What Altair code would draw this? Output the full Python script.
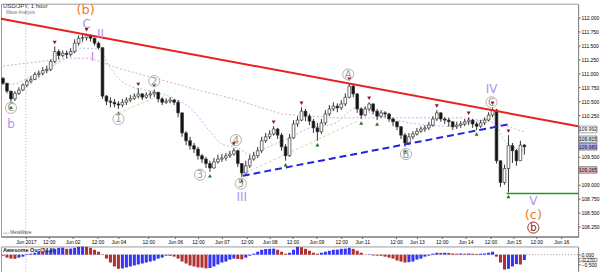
import altair as alt
import pandas as pd

# ---------------- price data (one bar = ~2 hours) ----------------
first_open = 110.91
close_px = [110.82, 110.68, 110.54, 110.64, 110.70, 110.79, 110.86, 110.89, 110.98, 111.00,
            111.05, 111.07, 111.21, 111.39, 111.32, 111.36, 111.34, 111.39, 111.54, 111.63,
            111.64, 111.68, 111.63, 111.54, 111.46, 110.59, 110.50, 110.48, 110.45, 110.43,
            110.48, 110.52, 110.55, 110.59, 110.63, 110.57, 110.61, 110.63, 110.66, 110.54,
            110.48, 110.50, 110.52, 110.48, 110.29, 109.93, 109.79, 109.70, 109.64, 109.52,
            109.46, 109.38, 109.30, 109.41, 109.46, 109.48, 109.52, 109.55, 109.61, 109.38,
            109.21, 109.34, 109.46, 109.52, 109.61, 109.79, 109.86, 109.91, 110.00, 109.89,
            109.68, 109.52, 109.84, 110.09, 110.16, 110.32, 110.23, 110.14, 110.02, 109.95,
            110.11, 110.27, 110.36, 110.41, 110.38, 110.45, 110.57, 110.77, 110.63, 110.36,
            110.25, 110.36, 110.45, 110.32, 110.23, 110.29, 110.27, 110.18, 110.13, 110.04,
            109.89, 109.75, 109.86, 109.91, 109.96, 110.00, 110.02, 110.07, 110.18, 110.29,
            110.18, 110.16, 110.13, 110.04, 110.07, 110.09, 110.13, 110.16, 110.09, 110.05,
            110.11, 110.16, 110.25, 110.34, 109.43, 109.04, 109.29, 109.70, 109.61, 109.43,
            109.71, 109.68]
high_px = [110.93, 110.82, 110.68, 110.68, 110.75, 110.82, 110.89, 110.95, 111.02, 111.05,
           111.11, 111.14, 111.25, 111.48, 111.43, 111.41, 111.41, 111.45, 111.61, 111.68,
           111.70, 111.71, 111.70, 111.64, 111.57, 111.46, 110.61, 110.57, 110.54, 110.50,
           110.54, 110.57, 110.61, 110.64, 110.73, 110.64, 110.66, 110.68, 110.71, 110.64,
           110.57, 110.55, 110.57, 110.54, 110.52, 110.29, 109.96, 109.86, 109.75, 109.68,
           109.55, 109.50, 109.43, 109.48, 109.54, 109.55, 109.57, 109.61, 109.66, 109.63,
           109.39, 109.43, 109.54, 109.59, 109.68, 109.86, 109.93, 109.98, 110.05, 110.02,
           109.93, 109.73, 109.91, 110.16, 110.23, 110.39, 110.36, 110.27, 110.18, 110.11,
           110.18, 110.34, 110.43, 110.48, 110.46, 110.52, 110.64, 110.82, 110.79, 110.64,
           110.39, 110.41, 110.48, 110.46, 110.36, 110.34, 110.32, 110.29, 110.21, 110.14,
           110.05, 109.93, 109.93, 109.96, 110.02, 110.05, 110.07, 110.13, 110.23, 110.34,
           110.30, 110.21, 110.20, 110.14, 110.13, 110.14, 110.18, 110.21, 110.18, 110.13,
           110.16, 110.21, 110.30, 110.39, 110.36, 109.43, 109.36, 109.89, 109.75, 109.64,
           109.79, 109.73]
low_px = [110.79, 110.64, 110.46, 110.50, 110.61, 110.68, 110.75, 110.82, 110.88, 110.93,
          110.96, 111.00, 111.04, 111.18, 111.25, 111.29, 111.27, 111.30, 111.36, 111.50,
          111.57, 111.59, 111.57, 111.50, 111.43, 110.54, 110.43, 110.39, 110.39, 110.36,
          110.39, 110.43, 110.48, 110.52, 110.55, 110.52, 110.54, 110.55, 110.57, 110.48,
          110.43, 110.45, 110.46, 110.43, 110.21, 109.86, 109.71, 109.63, 109.57, 109.45,
          109.39, 109.30, 109.23, 109.29, 109.38, 109.41, 109.43, 109.48, 109.52, 109.32,
          109.14, 109.20, 109.30, 109.43, 109.48, 109.57, 109.75, 109.82, 109.88, 109.82,
          109.61, 109.43, 109.50, 109.82, 110.04, 110.14, 110.14, 110.07, 109.93, 109.79,
          109.91, 110.07, 110.23, 110.32, 110.30, 110.34, 110.41, 110.55, 110.57, 110.29,
          110.18, 110.23, 110.32, 110.27, 110.16, 110.20, 110.21, 110.13, 110.05, 109.98,
          109.82, 109.68, 109.71, 109.82, 109.88, 109.93, 109.95, 109.98, 110.04, 110.14,
          110.13, 110.09, 110.04, 109.98, 110.00, 110.02, 110.05, 110.07, 110.02, 109.98,
          110.02, 110.07, 110.14, 110.21, 109.38, 108.96, 109.00, 108.86, 109.39, 109.34,
          109.43, 109.54]

# Awesome Oscillator (34,5)
ao_vals = [-0.05, -0.15, -0.20, -0.21, -0.15, -0.10, 0.03, 0.05, 0.10, 0.15,
           0.14, 0.20, 0.25, 0.30, 0.35, 0.36, 0.30, 0.31, 0.35, 0.40,
           0.41, 0.40, 0.35, 0.25, 0.15, 0.02, -0.20, -0.40, -0.60, -0.72,
           -0.70, -0.65, -0.60, -0.55, -0.50, -0.45, -0.40, -0.35, -0.30, -0.20,
           -0.15, -0.05, -0.06, -0.10, -0.20, -0.35, -0.45, -0.55, -0.60, -0.65,
           -0.66, -0.70, -0.68, -0.60, -0.50, -0.40, -0.35, -0.25, -0.20, -0.22,
           -0.24, -0.15, -0.05, 0.05, 0.15, 0.25, 0.29, 0.30, 0.31, 0.25,
           0.15, 0.05, 0.10, 0.25, 0.40, 0.38, 0.30, 0.20, 0.10, 0.05,
           0.10, 0.15, 0.20, 0.25, 0.26, 0.30, 0.31, 0.35, 0.30, 0.20,
           0.10, 0.01, 0.02, -0.04, -0.05, -0.06, -0.10, -0.15, -0.20, -0.30,
           -0.35, -0.40, -0.38, -0.35, -0.25, -0.20, -0.10, -0.05, 0.05, 0.10,
           0.09, 0.10, 0.09, 0.06, 0.05, 0.06, 0.05, 0.06, 0.05, 0.04,
           0.05, 0.06, 0.10, 0.15, -0.10, -0.40, -0.76, -0.72, -0.60, -0.48,
           -0.50, -0.27]

# moving averages (sparse readings: bar index, price)
pink_ma_i = [0, 16, 22, 29, 50, 58, 70, 83, 100, 116, 124, 131]
pink_ma_p = [111.13, 111.27, 111.27, 111.09, 110.68, 110.54, 110.27, 110.20, 110.20, 110.20, 110.11, 109.95]
blue_ma_i = [0, 2, 8, 16, 20, 24, 27, 31, 37, 43, 47, 52, 55, 59, 62, 66, 72, 77, 83, 89, 93, 100, 112, 123, 126, 131]
blue_ma_p = [110.91, 110.80, 110.98, 111.27, 111.45, 111.43, 111.09, 110.80, 110.68, 110.55, 110.38, 109.96,
             109.73, 109.66, 109.55, 109.66, 109.84, 110.02, 110.09, 110.38, 110.27, 110.14, 110.05, 110.18,
             109.79, 109.61]

# wave connector segments (faint yellow)
conn_seg = [1, 1, 2, 2, 3, 3]
conn_i = [3, 21, 29, 37.75, 60, 89]
conn_p = [110.59, 111.61, 110.29, 110.55, 109.18, 110.14]

# trend lines
red_i, red_p = [-0.5, 144.5], [111.98, 110.05]
blue_i, blue_p = [60.25, 127.5], [109.16, 110.09]
green_i, green_p = [126.5, 144.5], [108.84, 108.84]

# fractal markers (bar indices)
peak_bars = [13, 21, 34, 38, 58, 68, 75, 87, 92, 109, 117, 123, 127]
trough_bars = [2, 29, 52, 60, 71, 79, 90, 94, 101, 119, 127]

# wave labels
circ_text = ["C", "1", "2", "3", "4", "5", "A", "B", "C"]
circ_i = [2, 29, 38, 49.5, 58.5, 59.75, 86.75, 101.25, 122.75]
circ_p = [110.38, 110.18, 110.86, 109.18, 109.80, 109.02, 110.98, 109.55, 110.48]
purple_text = ["b", "C", "II", "I", "III", "IV", "V"]
purple_i = [2, 21, 24.5, 22.5, 60, 122.75, 133.25]
purple_p = [110.09, 111.89, 111.71, 111.29, 108.77, 110.71, 108.71]
orange_text = ["(b)", "(c)"]
orange_i = [20.75, 133.25]
orange_p = [112.14, 108.46]
dark_text, dark_i, dark_p = ["b"], [133.25], [108.23]

# header / footer texts
title_text = "USD/JPY, 1 hour"
subtitle_text = "Wave Analysis"
footer_text = "\u25c7\u25c7 MetaWave"
ao_title_text = "Awesome Osc(34,5)"

# axes
tick_i = [5.75, 11.5, 17.5, 23.75, 29, 36.5, 43.25, 49, 55, 61.25, 67, 72.75, 78.75, 85, 90.25,
          98.75, 104, 110.25, 116.25, 122.5, 128.25, 134, 140.25]
tick_text = ["Jun 2017", "12:00", "Jun 02", "12:00", "Jun 04", "12:00", "Jun 06", "12:00", "Jun 07",
             "12:00", "Jun 08", "12:00", "Jun 09", "12:00", "Jun 11", "12:00", "Jun 13", "12:00",
             "Jun 14", "12:00", "Jun 15", "12:00", "Jun 16"]
price_ticks = [108.25, 108.5, 108.75, 109.0, 109.5, 110.25, 110.5, 110.75, 111.0, 111.25, 111.5, 111.75, 112.0]
box_p = [109.992, 109.815, 109.680, 109.265]
box_fill = ["#ffffff", "#cfe2f3", "#aeb0f2", "#e6b4b4"]
separator_i = [5.75]

# ---------------- build ----------------
FONT = "Liberation Sans"
xs = alt.Scale(domain=[-0.5, 144.5], nice=False, zero=False)
ys = alt.Scale(domain=[108.07, 112.25], nice=False, zero=False)
label_expr = "[" + ",".join("'%s'" % t for t in tick_text) + "][indexof([" + ",".join(str(v) for v in tick_i) + "], datum.value)]"
xaxis = alt.Axis(values=tick_i, labelExpr=label_expr, labelFontSize=5, labelFont=FONT, tickSize=2,
                 labelPadding=1, labelOverlap=False, labelFlush=False, grid=False, title=None,
                 domainColor="#666", tickColor="#666", labelColor="#000")
yaxis = alt.Axis(values=price_ticks, format=".3f", orient="right", labelFontSize=5, labelFont=FONT,
                 tickSize=2, labelPadding=1, grid=False, title=None, domainColor="#666",
                 tickColor="#666", labelColor="#000", domainDash=[1, 1])


def X(f):
    return alt.X(f, type="quantitative", scale=xs, axis=xaxis)


def Y(f):
    return alt.Y(f, type="quantitative", scale=ys, axis=yaxis)


def label(text, x, y, size, color, weight="normal"):
    return alt.Chart(pd.DataFrame({"t": [text]})).mark_text(
        font=FONT, fontSize=size, fontWeight=weight, align="left", baseline="middle", color=color
    ).encode(x=alt.value(x), y=alt.value(y), text="t:N")


n = len(close_px)
opens = [first_open] + close_px[:-1]
cd = pd.DataFrame({"i": list(range(n)), "o": opens, "c": close_px, "h": high_px, "l": low_px})
cd["hi"] = cd[["h", "o", "c"]].max(axis=1)
cd["lo"] = cd[["l", "o", "c"]].min(axis=1)
cd["bt"] = cd[["o", "c"]].max(axis=1)
cd["bb"] = cd[["o", "c"]].min(axis=1)
cd["up"] = cd["c"] >= cd["o"]

pink = alt.Chart(pd.DataFrame({"i": pink_ma_i, "p": pink_ma_p})).mark_line(
    color="#dca6d6", strokeWidth=1, strokeDash=[2, 2]).encode(x=X("i"), y=Y("p"))
bluema = alt.Chart(pd.DataFrame({"i": blue_ma_i, "p": blue_ma_p})).mark_line(
    color="#a9bff2", strokeWidth=1, strokeDash=[2, 2], interpolate="monotone").encode(x=X("i"), y=Y("p"))
conn = alt.Chart(pd.DataFrame({"s": conn_seg, "i": conn_i, "p": conn_p})).mark_line(
    color="#d6d6a0", strokeWidth=1, strokeDash=[3, 2]).encode(x=X("i"), y=Y("p"), detail="s:N")
sep = alt.Chart(pd.DataFrame({"i": separator_i})).mark_rule(
    color="#aaaaaa", strokeDash=[1, 2], strokeWidth=1).encode(x=X("i"))

wick = alt.Chart(cd).mark_rule(color="#333333", strokeWidth=1).encode(x=X("i"), y=Y("lo"), y2="hi")
body = alt.Chart(cd).transform_calculate(x1="datum.i - 0.34", x2="datum.i + 0.34").mark_rect(
    strokeWidth=0.7).encode(
    x=X("x1"), x2="x2:Q", y=Y("bb"), y2="bt:Q",
    fill=alt.condition("datum.up", alt.value("#ffffff"), alt.value("#111111")),
    stroke=alt.value("#333333"))

redline = alt.Chart(pd.DataFrame({"i": red_i, "p": red_p})).mark_line(
    color="#e8211f", strokeWidth=2, clip=True).encode(x=X("i"), y=Y("p"))
blueline = alt.Chart(pd.DataFrame({"i": blue_i, "p": blue_p})).mark_line(
    color="#2424e0", strokeWidth=2, strokeDash=[7, 4]).encode(x=X("i"), y=Y("p"))
greenline = alt.Chart(pd.DataFrame({"i": green_i, "p": green_p})).mark_line(
    color="#1f9a1f", strokeWidth=1.5, clip=True).encode(x=X("i"), y=Y("p"))

peaks = alt.Chart(cd.loc[peak_bars, ["i", "hi"]]).mark_point(
    shape="triangle-down", filled=True, size=16, color="#8e1c1c", opacity=1, yOffset=-4).encode(
    x=X("i"), y=Y("hi"))
troughs = alt.Chart(cd.loc[trough_bars, ["i", "lo"]]).mark_point(
    shape="triangle-up", filled=True, size=16, color="#1c7a1c", opacity=1, yOffset=4).encode(
    x=X("i"), y=Y("lo"))

cdf = pd.DataFrame({"t": circ_text, "i": circ_i, "p": circ_p})
circles = alt.Chart(cdf).mark_point(shape="circle", size=125, filled=False, color="#b0b0b0",
                                    strokeWidth=1, opacity=1).encode(x=X("i"), y=Y("p"))
circ_txt = alt.Chart(cdf).mark_text(fontSize=10, font="DejaVu Sans", color="#9a9a9a",
                                    baseline="middle", dy=0.5).encode(x=X("i"), y=Y("p"), text="t:N")
purple = alt.Chart(pd.DataFrame({"t": purple_text, "i": purple_i, "p": purple_p})).mark_text(
    fontSize=12, font="DejaVu Sans", color="#b08ff0", baseline="middle").encode(x=X("i"), y=Y("p"), text="t:N")
orange = alt.Chart(pd.DataFrame({"t": orange_text, "i": orange_i, "p": orange_p})).mark_text(
    fontSize=13, font="DejaVu Sans", color="#f07a1e", baseline="middle").encode(x=X("i"), y=Y("p"), text="t:N")
ddf = pd.DataFrame({"t": dark_text, "i": dark_i, "p": dark_p})
dark_c = alt.Chart(ddf).mark_point(shape="circle", size=125, filled=False, color="#9a2a2a",
                                   strokeWidth=1, opacity=1).encode(x=X("i"), y=Y("p"))
dark_t = alt.Chart(ddf).mark_text(fontSize=10, font="DejaVu Sans", color="#8b1a1a", baseline="middle",
                                  dy=0.5).encode(x=X("i"), y=Y("p"), text="t:N")

bdf = pd.DataFrame({"p": box_p, "f": box_fill, "t": ["%.3f" % v for v in box_p]})
boxes = alt.Chart(bdf).transform_calculate(t1="datum.p + 0.06", b1="datum.p - 0.06").mark_rect(
    clip=False, stroke="#666666", strokeWidth=0.6).encode(
    x=alt.value(581), x2=alt.value(599), y=Y("t1"), y2="b1:Q", fill=alt.Fill("f:N", scale=None))
box_txt = alt.Chart(bdf).mark_text(fontSize=5, font=FONT, color="#111111", baseline="middle").encode(
    x=alt.value(590), y=Y("p"), text="t:N")

hdr1 = label(title_text, 2, 2.5, 6, "#333333")
hdr2 = label(subtitle_text, 5, 9.5, 4.5, "#777777")
ftr = label(footer_text, 2, 230, 4.5, "#555555")

main = alt.layer(sep, pink, bluema, conn, wick, body, redline, blueline, greenline, peaks, troughs,
                 circles, circ_txt, purple, orange, dark_c, dark_t, boxes, box_txt, hdr1, hdr2, ftr
                 ).properties(width=580, height=234)

# ---------------- AO panel ----------------
ad = pd.DataFrame({"i": list(range(len(ao_vals))), "v": ao_vals})
ad["prev"] = [ao_vals[0]] + ao_vals[:-1]
ad["col"] = ["#3434f2" if v > p else "#b0302e" for v, p in zip(ad["v"], ad["prev"])]
ad["z"] = 0.0
aos = alt.Scale(domain=[-0.9, 0.42], nice=False, zero=False)
aoaxis = alt.Axis(values=[0, -0.5], format=".3f", orient="right", labelFontSize=5, labelFont=FONT,
                  tickSize=2, labelPadding=1, grid=False, title=None, domainColor="#666",
                  tickColor="#666", labelColor="#000", domainDash=[1, 1])
axs = alt.Scale(domain=[-0.5, 144.5], nice=False, zero=False)

ao_bars = alt.Chart(ad).transform_calculate(x1="datum.i - 0.38", x2="datum.i + 0.38").mark_rect().encode(
    x=alt.X("x1:Q", scale=axs, axis=None), x2="x2:Q",
    y=alt.Y("v:Q", scale=aos, axis=aoaxis), y2="z:Q",
    fill=alt.Fill("col:N", scale=None))
ao_zero = alt.Chart(pd.DataFrame({"v": [0.0]})).mark_rule(color="#999999", strokeDash=[1, 2]).encode(
    y=alt.Y("v:Q", scale=aos, axis=aoaxis))
ao_sep = alt.Chart(pd.DataFrame({"i": separator_i})).mark_rule(
    color="#aaaaaa", strokeDash=[1, 2]).encode(x=alt.X("i:Q", scale=axs, axis=None))
ao_title = label(ao_title_text, 2, 4, 5.5, "#222222", "bold")
ao_last = pd.DataFrame({"v": [ao_vals[-1]], "t": ["%.3f" % ao_vals[-1]]})
ao_box = alt.Chart(ao_last).transform_calculate(t1="datum.v + 0.09", b1="datum.v - 0.09").mark_rect(
    clip=False, fill="#ffffff", stroke="#555555", strokeWidth=0.6).encode(
    x=alt.value(581), x2=alt.value(599), y=alt.Y("t1:Q", scale=aos, axis=aoaxis), y2="b1:Q")
ao_box_t = alt.Chart(ao_last).mark_text(fontSize=5, font=FONT, color="#111111", baseline="middle").encode(
    x=alt.value(590), y=alt.Y("v:Q", scale=aos, axis=aoaxis), text="t:N")

ao = alt.layer(ao_sep, ao_zero, ao_bars, ao_title, ao_box, ao_box_t).properties(width=580, height=26)

chart = alt.vconcat(main, ao, spacing=0).properties(
    padding={"left": 0, "top": 2, "right": 0, "bottom": 0},
    background="white",
).configure_view(stroke="#9a9a9a", strokeWidth=1)

chart.save("out.html", embed_options={"renderer": "svg", "actions": False})
